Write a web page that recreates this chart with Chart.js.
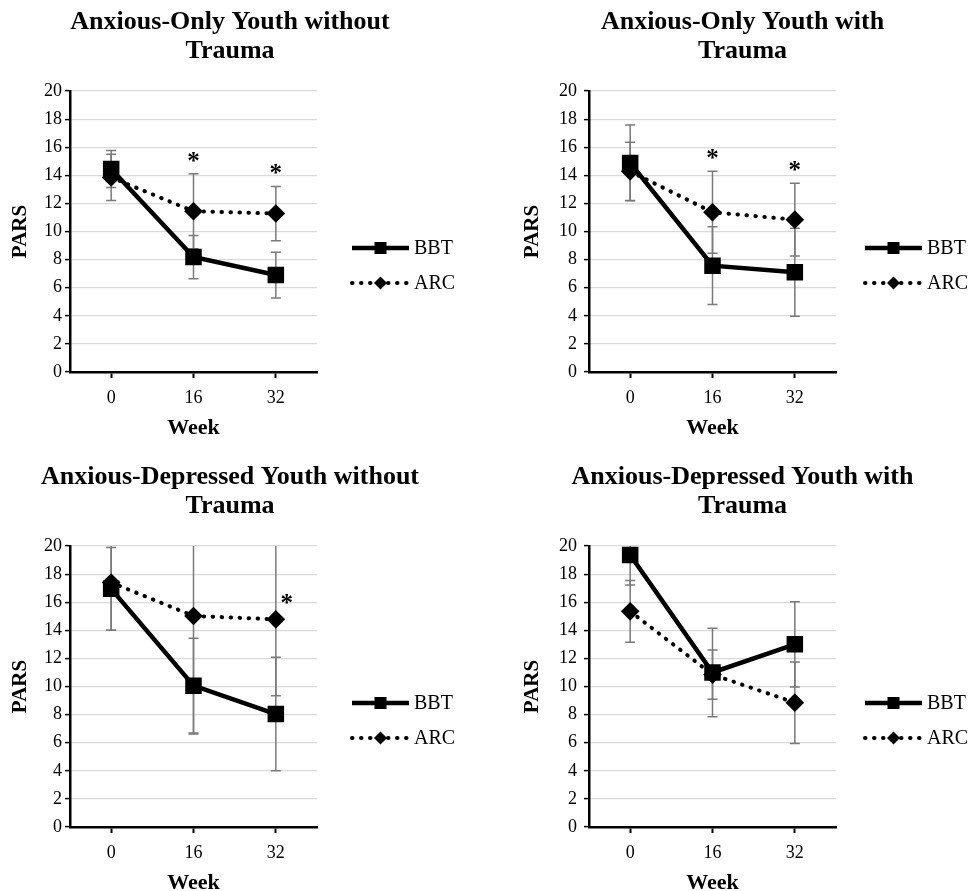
<!DOCTYPE html>
<html>
<head>
<meta charset="utf-8">
<script src="https://cdn.jsdelivr.net/npm/chart.js@4.4.1/dist/chart.umd.min.js"></script>
<style>
  html, body { margin: 0; padding: 0; background: #fff; width: 970px; height: 891px; overflow: hidden; }
  .panel { position: absolute; }
</style>
</head>
<body>
<div class="panel" style="left:0;top:0;width:460px;height:444px"><canvas id="c1"></canvas></div>
<div class="panel" style="left:515px;top:0;width:455px;height:444px"><canvas id="c2"></canvas></div>
<div class="panel" style="left:0;top:455px;width:460px;height:444px"><canvas id="c3"></canvas></div>
<div class="panel" style="left:515px;top:455px;width:455px;height:444px"><canvas id="c4"></canvas></div>
<script>
// données
const weeks = ['0', '16', '32'];
const seriesNames = ['BBT', 'ARC'];

const title1 = ['Anxious-Only Youth without', 'Trauma'];
const bbt1 = [14.45, 8.18, 6.9];
const bbt1Err = [1.32, 1.54, 1.63];
const arc1 = [13.85, 11.44, 11.28];
const arc1Err = [1.65, 2.67, 1.93];
const sig1 = [false, true, true];

const title2 = ['Anxious-Only Youth with', 'Trauma'];
const bbt2 = [14.88, 7.57, 7.1];
const bbt2Err = [2.7, 2.77, 3.13];
const arc2 = [14.28, 11.37, 10.84];
const arc2Err = [2.07, 2.91, 2.59];
const sig2 = [false, true, true];

const title3 = ['Anxious-Depressed Youth without', 'Trauma'];
const bbt3 = [16.95, 10.06, 8.04];
const bbt3Err = [2.95, 3.37, 4.04];
const arc3 = [17.4, 15.02, 14.78];
const arc3Err = [3.4, 8.4, 5.43];
const sig3 = [false, false, true];

const title4 = ['Anxious-Depressed Youth with', 'Trauma'];
const bbt4 = [19.36, 11.0, 13.0];
const bbt4Err = [2.14, 3.15, 3.04];
const arc4 = [15.35, 10.85, 8.85];
const arc4Err = [2.2, 1.75, 2.9];
const sig4 = [false, false, false];

const serif = '"Liberation Serif", "Times New Roman", serif';

// barres d'erreur (coupées au bord du graphique, sans capuchon)
const errorBars = {
    id: 'errorBars',
    beforeDatasetsDraw(chart) {
        const { ctx, scales: { x, y } } = chart;
        ctx.save();
        ctx.strokeStyle = '#7a7a7a';
        ctx.lineWidth = 1.5;
        chart.data.datasets.forEach(ds => {
            (ds.errors || []).forEach((e, i) => {
                const px = x.getPixelForValue(i);
                const hi = ds.data[i] + e, lo = ds.data[i] - e;
                const yHi = y.getPixelForValue(Math.min(hi, y.max));
                const yLo = y.getPixelForValue(Math.max(lo, y.min));
                ctx.beginPath();
                ctx.moveTo(px, yHi); ctx.lineTo(px, yLo);
                if (hi <= y.max) { ctx.moveTo(px - 5, yHi); ctx.lineTo(px + 5, yHi); }
                if (lo >= y.min) { ctx.moveTo(px - 5, yLo); ctx.lineTo(px + 5, yLo); }
                ctx.stroke();
            });
        });
        ctx.restore();
    }
};

// astérisques de significativité
const stars = {
    id: 'stars',
    afterDatasetsDraw(chart, args, opts) {
        const { ctx, scales: { x, y } } = chart;
        const ds = chart.data.datasets[1];
        ctx.save();
        ctx.fillStyle = '#000';
        ctx.font = 'bold 25px ' + serif;
        ctx.textAlign = 'center';
        ctx.textBaseline = 'alphabetic';
        (opts.sig || []).forEach((s, i) => {
            if (!s) return;
            const top = ds.data[i] + ds.errors[i];
            let px = x.getPixelForValue(i), cy;
            if (top <= y.max) {
                cy = y.getPixelForValue(top) - 17;
            } else {
                px += 11;
                cy = y.getPixelForValue(ds.data[i]) - 20;
            }
            ctx.fillText('*', px, cy + 12);
        });
        ctx.restore();
    }
};

function drawMarker(ctx, style, r, x, y) {
    ctx.fillStyle = '#000';
    ctx.beginPath();
    if (style === 'rect') {
        const s = r * Math.SQRT1_2;
        ctx.rect(x - s, y - s, 2 * s, 2 * s);
    } else {
        ctx.moveTo(x, y - r); ctx.lineTo(x + r, y); ctx.lineTo(x, y + r); ctx.lineTo(x - r, y);
        ctx.closePath();
    }
    ctx.fill();
}

// légende à droite, comme dans Excel
const sideLegend = {
    id: 'sideLegend',
    afterDraw(chart, args, opts) {
        const { ctx, chartArea: a } = chart;
        chart.data.datasets.forEach((ds, i) => {
            const y0 = a.top + 157 + i * 35;
            const x0 = a.right + opts.dx, x1 = x0 + 57;
            ctx.save();
            ctx.strokeStyle = ds.borderColor;
            ctx.lineWidth = ds.borderWidth;
            ctx.lineCap = ds.borderCapStyle || 'butt';
            ctx.setLineDash(ds.borderDash || []);
            ctx.beginPath(); ctx.moveTo(x0, y0); ctx.lineTo(x1, y0); ctx.stroke();
            ctx.setLineDash([]);
            drawMarker(ctx, ds.pointStyle, ds.pointRadius, (x0 + x1) / 2, y0);
            ctx.fillStyle = '#000';
            ctx.font = '20px ' + serif;
            ctx.textBaseline = 'middle';
            ctx.fillText(ds.label, x1 + 5, y0 + 1);
            ctx.restore();
        });
    }
};

function makeChart(id, title, bbt, bbtErr, arc, arcErr, sig, right) {
    const ctx = document.getElementById(id).getContext('2d');
    return new Chart(ctx, {
        type: 'line',
        data: {
            labels: weeks,
            datasets: [{
                label: seriesNames[0],
                data: bbt,
                errors: bbtErr,
                borderColor: '#000',
                backgroundColor: '#000',
                borderWidth: 4.5,
                pointStyle: 'rect',
                pointRadius: 8.5,
                pointHoverRadius: 8.5,
                tension: 0
            }, {
                label: seriesNames[1],
                data: arc,
                errors: arcErr,
                borderColor: '#000',
                backgroundColor: '#000',
                borderWidth: 4,
                borderDash: [0.5, 8.5],
                borderCapStyle: 'round',
                pointStyle: 'rectRot',
                pointRadius: 6.5,
                pointHoverRadius: 6.5,
                tension: 0
            }]
        },
        options: {
            responsive: true,
            maintainAspectRatio: false,
            animation: false,
            events: [],
            layout: { padding: 0 },
            plugins: {
                legend: { display: false },
                tooltip: { enabled: false },
                title: {
                    display: true,
                    text: title,
                    color: '#000',
                    font: { family: serif, size: 26, weight: 'bold', lineHeight: 29 / 26 },
                    padding: { top: 8, bottom: 25 }
                },
                stars: { sig: sig },
                sideLegend: { dx: right ? 29 : 35 }
            },
            scales: {
                x: {
                    offset: true,
                    afterFit: s => { s.height = 72; },
                    grid: { display: true, drawOnChartArea: false, offset: false, tickLength: 6, tickColor: '#000', tickWidth: 2 },
                    border: { color: '#000', width: 2.5 },
                    ticks: { color: '#000', font: { family: serif, size: 18 }, padding: 9 },
                    title: { display: true, text: 'Week', color: '#000', font: { family: serif, size: 22, weight: 'bold' }, padding: { top: 0, bottom: 2 } }
                },
                y: {
                    min: 0,
                    max: 20,
                    afterFit: s => { s.width = right ? 74 : 70; },
                    grid: { color: '#d9d9d9', lineWidth: 1.2, tickLength: 5, tickColor: '#000', tickWidth: 1.5 },
                    border: { color: '#000', width: 2.5 },
                    ticks: { stepSize: 2, autoSkip: false, color: '#000', font: { family: serif, size: 18 }, padding: right ? 7 : 3 },
                    title: { display: true, text: 'PARS', color: '#000', font: { family: serif, size: 21, weight: 'bold' }, padding: { top: right ? 5 : 8, bottom: 0 } }
                },
                // axe vide à droite : réserve la place de la légende
                legendSpace: {
                    type: 'linear',
                    position: 'right',
                    display: true,
                    afterFit: s => { s.width = right ? 134 : 143; },
                    grid: { display: false },
                    border: { display: false },
                    ticks: { display: false }
                }
            }
        },
        plugins: [errorBars, stars, sideLegend]
    });
}

makeChart('c1', title1, bbt1, bbt1Err, arc1, arc1Err, sig1, false);
makeChart('c2', title2, bbt2, bbt2Err, arc2, arc2Err, sig2, true);
makeChart('c3', title3, bbt3, bbt3Err, arc3, arc3Err, sig3, false);
makeChart('c4', title4, bbt4, bbt4Err, arc4, arc4Err, sig4, true);
</script>
</body>
</html>
